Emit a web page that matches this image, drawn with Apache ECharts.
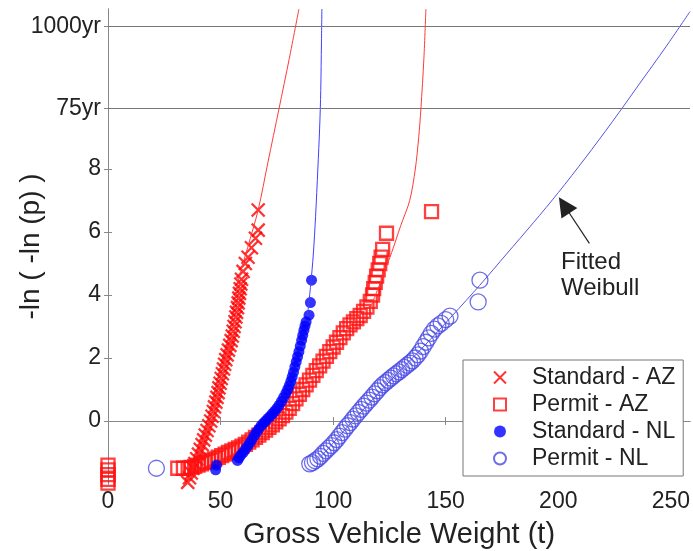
<!DOCTYPE html>
<html>
<head>
<meta charset="utf-8">
<script src="https://cdn.jsdelivr.net/npm/echarts@6/dist/echarts.min.js"></script>
<style>
html, body { margin: 0; padding: 0; background: #fff; }
#main { width: 693px; height: 551px; }
</style>
</head>
<body>
<div id="main"></div>
<script>
// probability paper: x = gross vehicle weight (t), y = -ln(-ln(p))
var stdAZ = [
  [35.4,-1.95],[36.2,-1.8],[37,-1.65],[37.8,-1.5],[38.6,-1.35],[39.4,-1.2],[40.2,-1.05],[41,-0.9],
  [41.8,-0.75],[42.5,-0.6],[43.2,-0.45],[44,-0.3],[44.8,-0.15],[45.6,0],[46.2,0.15],[46.8,0.3],
  [47.3,0.45],[47.9,0.6],[48.4,0.75],[48.9,0.9],[49.3,1.05],[49.8,1.2],[50.3,1.35],[50.8,1.5],
  [51.3,1.65],[51.8,1.8],[52.3,1.95],[52.9,2.1],[53.5,2.25],[54.1,2.4],[54.7,2.55],[55.2,2.7],
  [55.6,2.85],[56,3.0],[56.4,3.15],[56.8,3.3],[57.1,3.45],[57.5,3.6],[57.8,3.75],[58.1,3.9],
  [58.4,4.05],[58.7,4.2],[59,4.35],[59.3,4.5],
  [60,4.75],[61,5.0],[62.2,5.2],[63.7,5.5],[65.5,5.8],[66.7,6.06],[66.7,6.7]
];
var permitAZ = [
  [0,-1.4],[0,-1.55],[0,-1.7],[0,-1.85],[0,-1.97],[31,-1.5],[33.5,-1.5],[35.6,-1.5],
  [37,-1.47],[38.5,-1.44],[40,-1.4],[41.5,-1.36],[43,-1.32],[44.5,-1.28],[46,-1.24],[47.5,-1.2],
  [49,-1.15],[50.5,-1.1],[52,-1.05],[53.5,-1.0],[55,-0.95],[56.5,-0.9],[58,-0.85],[59.5,-0.8],
  [61,-0.74],[62.5,-0.67],[64,-0.6],[65.5,-0.52],[67,-0.45],[68.5,-0.37],[70,-0.29],[71.5,-0.2],
  [73,-0.12],[74.5,-0.03],[76,0.07],[77.5,0.17],[79,0.28],[80.5,0.4],[82,0.55],[83.5,0.7],
  [85,0.85],[86.5,1.0],[88,1.15],[89.5,1.3],[91,1.45],[92.5,1.6],[94,1.75],[95.5,1.9],
  [97,2.05],[98.5,2.2],[100,2.35],[101.5,2.5],[103,2.65],[104.5,2.8],[106,2.93],[107.5,3.05],
  [109,3.15],[110.5,3.25],[112,3.35],[113.5,3.48],[115,3.62],[116.5,3.8],[117.5,4.0],[118,4.2],
  [118.7,4.4],[119.3,4.6],[120,4.8],[120.7,5.0],[121.3,5.2],[122,5.45],[123.7,5.96],[143.7,6.65]
];
var stdNL = [
  [47.8,-1.55],[48.2,-1.4],[57.5,-1.25],[58.2,-1.17],[59,-1.08],[60,-1.0],[61,-0.9],[62,-0.8],
  [63,-0.7],[64,-0.58],[65,-0.46],[66,-0.35],[67,-0.25],[68,-0.15],[69,-0.07],[70,0.0],
  [71,0.08],[72,0.15],[73,0.23],[74,0.31],[75,0.4],[76,0.5],[77,0.62],[78,0.75],[79,0.88],
  [79.8,1.0],[80.5,1.12],[81.2,1.26],[81.8,1.4],[82.4,1.55],[83,1.72],[83.6,1.88],[84.2,2.04],
  [84.8,2.2],[85.4,2.38],[86,2.56],[86.5,2.72],[87,2.88],[87.5,3.02],[88,3.15],
  [89.3,3.36],[89.9,3.76],[90.4,4.47]
];
var permitNL = [
  [21.5,-1.5],[89.6,-1.36],[90.8,-1.32],[92,-1.26],[93.2,-1.2],[94.4,-1.12],[95.6,-1.03],
  [96.8,-0.95],[98,-0.86],[99.2,-0.78],[100.4,-0.69],[101.6,-0.59],[102.8,-0.48],[104,-0.37],
  [105.2,-0.26],[106.4,-0.15],[107.6,-0.05],[108.8,0.06],[110,0.16],[111.2,0.27],[112.4,0.37],
  [113.6,0.47],[114.8,0.57],[116,0.66],[117.2,0.76],[118.4,0.86],[119.6,0.96],[120.8,1.06],
  [122,1.15],[123.2,1.22],[124.4,1.29],[125.6,1.36],[126.8,1.43],[128,1.5],[129.2,1.56],
  [130.4,1.63],[131.6,1.7],[132.8,1.77],[134,1.84],[135.2,1.91],[136.4,2.0],[137.6,2.1],
  [138.8,2.22],[140,2.36],[141.2,2.5],[142.4,2.64],[143.6,2.78],[145,2.92],[146.5,3.02],
  [148,3.1],[150,3.22],[151.9,3.33],[164.4,3.78],[165.2,4.47]
];

// fitted Weibull curves
var fitStdAZ = [[56,3.6],[58,4.5],[62,5.5],[66.7,6.7],[71,8.2],[76,9.93],[80.5,11.5],[84.8,13.08]];
var fitStdNL = [[88.5,3.3],[90,4.3],[91.2,5.3],[92.2,6.5],[93.2,8.0],[94,9.3],[94.5,10.5],[94.8,12],[95,13.08]];
var fitPermitAZ = [[116,3.5],[121,4.4],[126,5.35],[130,6.2],[134,7.0],[136.5,8.0],[138,9.0],[139,9.93],[140.3,11.5],[141.2,13.08]];
var fitPermitNL = [[95,-1.1],[110,0.1],[125,1.25],[140,2.35],[153,3.35],[165,4.3],[177,5.3],[189,6.3],
  [200,7.25],[212,8.35],[224,9.5],[236,10.7],[248,11.9],[258.5,13.0]];

// return-period levels and ticks
var returnLevels = [9.93, 12.53];
var xTicks = [0, 50, 100, 150, 200, 250];
var yTickValues = [0, 2, 4, 6, 8, 9.93, 12.53];
var yTickLabels = ['0', '2', '4', '6', '8', '75yr', '1000yr'];
var arrowFrom = [213.8, 5.64];
var arrowTo = [202.6, 6.85];

var font = 'Liberation Sans, Arial, sans-serif';
var frame = '#888';
var crossPath = 'path://M0,0L10,10M0,10L10,0';
var squarePath = 'path://M0,0L10,0L10,10L0,10Z';

function yLabel(v) {
  for (var i = 0; i < yTickValues.length; i++) {
    if (Math.abs(yTickValues[i] - v) < 1e-6) return yTickLabels[i];
  }
  return '';
}

var chart = echarts.init(document.getElementById('main'));

function frameAxis(extra, ticks) {
  return Object.assign({
    axisLine: { show: true, lineStyle: { color: frame, width: 1 } },
    axisTick: { inside: true, length: 4, customValues: ticks, lineStyle: { color: frame } },
    splitLine: { show: false }
  }, extra);
}

var option = {
  animation: false,
  backgroundColor: '#fff',
  grid: { left: 108, right: 3, top: 9, bottom: 67, outerBoundsMode: 'none', containLabel: false },
  xAxis: [
    frameAxis({
      type: 'value', min: 0, max: 258.5, position: 'bottom',
      name: 'Gross Vehicle Weight (t)', nameLocation: 'middle', nameGap: 36, nameMoveOverlap: false,
      nameTextStyle: { fontSize: 29, fontFamily: font, color: '#222' },
      axisLabel: { customValues: xTicks, fontSize: 23, fontFamily: font, color: '#222', margin: 6 }
    }, xTicks),
    frameAxis({
      type: 'value', min: 0, max: 258.5, position: 'top',
      axisLabel: { show: false }
    }, xTicks)
  ],
  yAxis: [
    frameAxis({
      type: 'value', min: -2, max: 13.08, position: 'left',
      name: '-ln ( -ln (p) )', nameLocation: 'middle', nameGap: 63, nameMoveOverlap: false,
      nameTextStyle: { fontSize: 28, fontFamily: font, color: '#222' },
      axisLabel: { customValues: yTickValues, formatter: yLabel, fontSize: 23, fontFamily: font, color: '#222', margin: 7 }
    }, yTickValues),
    frameAxis({
      type: 'value', min: -2, max: 13.08, position: 'right',
      axisLabel: { show: false }
    }, yTickValues)
  ],
  legend: {
    data: ['Standard - AZ', 'Permit - AZ', 'Standard - NL', 'Permit - NL'],
    orient: 'vertical', left: 463, top: 360,
    itemWidth: 54, itemHeight: 12, itemGap: 4,
    padding: [6, 8, 6, 30],
    borderColor: '#777', borderWidth: 1, backgroundColor: '#fff',
    selectedMode: false,
    textStyle: { fontSize: 23, lineHeight: 23, fontFamily: font, color: '#222' }
  },
  graphic: [{
    type: 'text', left: 561, top: 249,
    style: { text: 'Fitted\nWeibull', font: '24px ' + font, lineHeight: 26, fill: '#222' }
  }],
  series: [
    {
      name: 'Standard - AZ', type: 'scatter', data: stdAZ, clip: false,
      symbol: crossPath, symbolSize: 13,
      itemStyle: { color: 'rgba(255,0,0,0)', borderColor: '#ff0000', borderWidth: 2.3 }
    },
    {
      name: 'Permit - AZ', type: 'scatter', data: permitAZ, clip: false,
      symbol: squarePath, symbolSize: 13,
      itemStyle: { color: 'rgba(255,0,0,0)', borderColor: '#ff1010', borderWidth: 2.3 }
    },
    {
      name: 'Standard - NL', type: 'scatter', data: stdNL, clip: false,
      symbol: 'circle', symbolSize: 11,
      itemStyle: { color: '#0000ff' }
    },
    {
      name: 'Permit - NL', type: 'scatter', data: permitNL, clip: false,
      symbol: 'circle', symbolSize: 16,
      itemStyle: { color: 'rgba(0,0,255,0)', borderColor: '#4a4ae6', borderWidth: 1.3 }
    },
    {
      name: 'fitStdAZ', type: 'line', data: fitStdAZ, symbol: 'none', smooth: 0.3,
      lineStyle: { color: '#ff3a3a', width: 1 },
      markLine: {
        silent: true, symbol: ['none', 'none'], label: { show: false },
        lineStyle: { color: '#777', type: 'solid', width: 1 },
        data: returnLevels.map(function (v) { return { yAxis: v }; })
      }
    },
    {
      name: 'fitStdNL', type: 'line', data: fitStdNL, symbol: 'none', smooth: 0.3,
      lineStyle: { color: '#4040ff', width: 1 }
    },
    {
      name: 'fitPermitAZ', type: 'line', data: fitPermitAZ, symbol: 'none', smooth: 0.3,
      lineStyle: { color: '#ff3a3a', width: 1 }
    },
    {
      name: 'fitPermitNL', type: 'line', data: fitPermitNL, symbol: 'none', smooth: 0.3,
      lineStyle: { color: '#5555e0', width: 1 },
      markLine: {
        silent: true, symbol: ['none', 'triangle'], symbolSize: 19,
        label: { show: false },
        lineStyle: { color: '#222', type: 'solid', width: 1.2 },
        data: [[{ coord: arrowFrom }, { coord: arrowTo }]]
      }
    }
  ]
};

chart.setOption(option);
</script>
</body>
</html>
